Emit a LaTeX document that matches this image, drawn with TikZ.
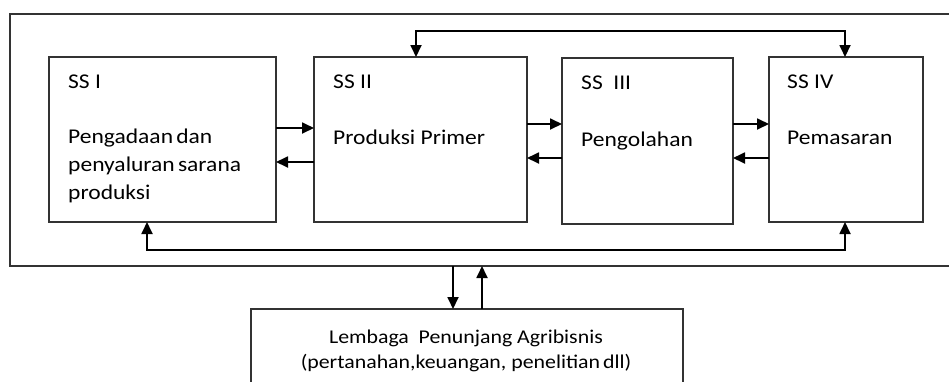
\documentclass[tikz,border=0pt]{standalone}
\usepackage{fontspec}
\setmainfont{Carlito}[FakeStretch=1.12]
\usetikzlibrary{arrows.meta,calc}
\begin{document}
\begin{tikzpicture}[x=1pt,y=-1pt,
  box/.style={draw=black!80,line width=1.3pt,inner sep=0pt,outer sep=0pt,anchor=north west},
  lbl/.style={anchor=base west,inner sep=0pt,font=\fontsize{21}{28}\selectfont},
  sublbl/.style={anchor=base,inner sep=0pt,font=\fontsize{19.5}{25}\selectfont},
  link/.style={line width=1.8pt,draw=black,-{Triangle[length=12pt,width=11pt]}},
  dlink/.style={line width=1.8pt,draw=black,{Triangle[length=12pt,width=11pt]}-{Triangle[length=12pt,width=11pt]}}]
\useasboundingbox (0,0) rectangle (949,381);
\clip (0,0) rectangle (949,381);

% frame around the four subsystems
\node[box,minimum width=960pt,minimum height=252pt] (outer) at (10,14) {};

% subsystems
\node[box,minimum width=227pt,minimum height=165pt] (ss1) at (49,57) {};
\node[box,minimum width=213pt,minimum height=165pt] (ss2) at (314,57) {};
\node[box,minimum width=171pt,minimum height=166pt] (ss3) at (562,58) {};
\node[box,minimum width=154pt,minimum height=165pt] (ss4) at (769,57) {};

% supporting institutions
\node[box,minimum width=432pt,minimum height=100pt] (lem) at (251,309) {};

% labels
\node[lbl] (t1a) at (68,88) {SS I};
\node[lbl] (t1b) at (68,143) {Pengadaan\hspace{-0.1em} dan};
\node[lbl] (t1c) at (68,171) {penyaluran\hspace{-0.1em} sarana};
\node[lbl] (t1d) at (68,199) {produksi};
\node[lbl] (t2a) at (333,88) {SS II};
\node[lbl] (t2b) at (333,144) {Produksi Primer};
\node[lbl] (t3a) at (581,89) {SS\hspace{0.25em} III};
\node[lbl] (t3b) at (581,146) {Pengolahan};
\node[lbl] (t4a) at (787,88) {SS IV};
\node[lbl] (t4b) at (787,144) {Pemasaran};
\node[sublbl] (t5a) at (466,343) {Lembaga\hspace{0.25em} Penunjang Agribisnis};
\node[sublbl] (t5b) at (466,368) {(pertanahan,keuangan, penelitian\hspace{-0.1em} dll)};

% flows between neighbouring subsystems
\draw[link] ($(ss1.north east)+(0,71)$) coordinate (a1) -- (a1 -| ss2.west);
\draw[link] ($(ss2.north west)+(0,105)$) coordinate (a2) -- (a2 -| ss1.east);
\draw[link] ($(ss2.north east)+(0,67)$) coordinate (a3) -- (a3 -| ss3.west);
\draw[link] ($(ss3.north west)+(0,100)$) coordinate (a4) -- (a4 -| ss2.east);
\draw[link] ($(ss3.north east)+(0,66)$) coordinate (a5) -- (a5 -| ss4.west);
\draw[link] ($(ss4.north west)+(0,101)$) coordinate (a6) -- (a6 -| ss3.east);

% long loops
\draw[dlink] ([xshift=102pt]ss2.north west) -- ++(0,-26) -| ([xshift=76pt]ss4.north west);
\draw[dlink] ([xshift=98pt]ss1.south west) -- ++(0,28) -| ([xshift=76pt]ss4.south west);

% link with supporting institutions
\coordinate (d1) at ([xshift=202pt]lem.north west);
\coordinate (d2) at ([xshift=231pt]lem.north west);
\draw[link] (d1 |- outer.south) -- (d1);
\draw[link] (d2) -- (d2 |- outer.south);
\end{tikzpicture}
\end{document}
